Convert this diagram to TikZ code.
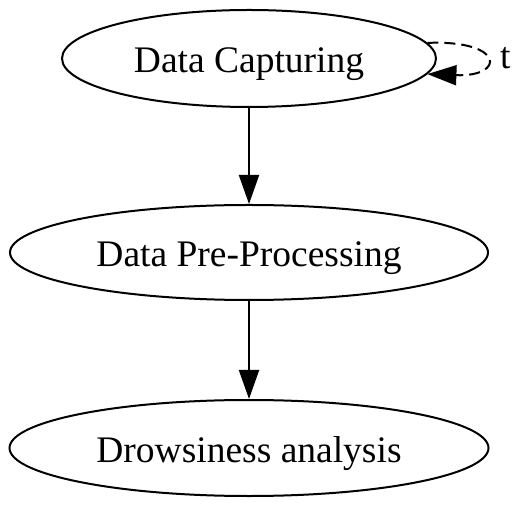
\documentclass[tikz,border=0pt]{standalone}
\usepackage{fontspec}
\setmainfont{Liberation Serif}
\usepackage{tikz}
\usetikzlibrary{arrows.meta,shapes.geometric}

\begin{document}
\begin{tikzpicture}[x=1pt,y=1pt,>={Triangle[length=29pt,width=20pt]},
    line width=2pt,
    etapa/.style={draw,ellipse,inner sep=0pt,text height=32pt,text depth=4pt,
      font=\fontsize{37.5}{44}\selectfont}]
  \useasboundingbox (0,0) rectangle (526,508);
  \node[etapa,minimum width=374pt,minimum height=97pt] (cap) at (249,449.5) {Data Capturing};
  \node[etapa,minimum width=478pt,minimum height=95pt] (pre) at (249,255.5) {Data Pre-Processing};
  \node[etapa,minimum width=479pt,minimum height=96pt] (drow) at (249,60) {Drowsiness analysis};
  \draw[->] (cap.south) -- (pre.north);
  \draw[->] (pre.south) -- (drow.north);
  % bucle
  \draw[->,dash pattern=on 11pt off 6pt] (cap.5) .. controls +(78,3) and +(78,-3) .. (cap.-5);
  \node[font=\fontsize{37.5}{44}\selectfont,anchor=west,inner sep=0pt] (t) at (499,450) {t};
\end{tikzpicture}
\end{document}
